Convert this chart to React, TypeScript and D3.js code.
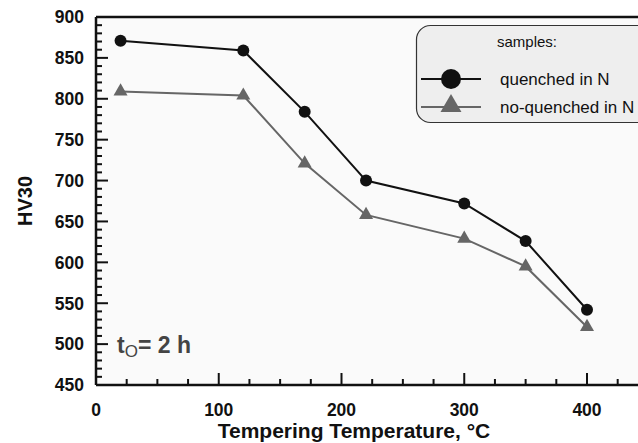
import React, { useRef, useEffect } from 'react';
import * as d3 from 'd3';

const temps = [20, 120, 170, 220, 300, 350, 400];
const quenched = [871, 859, 784, 700, 672, 626, 542];
const noQuenched = [809, 804, 721, 658, 629, 595, 521];
const seriesNames = ['quenched in N', 'no-quenched in N'];
const xTicks = [0, 100, 200, 300, 400];
const yTicks = [450, 500, 550, 600, 650, 700, 750, 800, 850, 900];

export default function App() {
  const svgRef = useRef<SVGSVGElement>(null);

  useEffect(() => {
    const W = 638;
    const svg = d3.select(svgRef.current);
    svg.selectAll('*').remove();

    const x = d3.scaleLinear().domain([0, 450]).range([96, 96 + 450 * 1.2275]);
    const y = d3.scaleLinear().domain([450, 900]).range([385, 17]);
    const font = 'Liberation Sans, Arial, sans-serif';

    // plot background
    svg.append('rect')
      .attr('x', x(0)).attr('y', y(900))
      .attr('width', W - x(0)).attr('height', y(450) - y(900))
      .attr('fill', '#fafafa');

    // y ticks (inside)
    svg.append('g').selectAll('line').data(d3.range(450, 901, 10)).enter().append('line')
      .attr('x1', x(0)).attr('x2', d => x(0) + (d % 50 === 0 ? 12 : 6))
      .attr('y1', d => y(d)).attr('y2', d => y(d))
      .attr('stroke', '#111').attr('stroke-width', 2);

    // x ticks (inside)
    svg.append('g').selectAll('line').data(d3.range(0, 451, 25)).enter().append('line')
      .attr('x1', d => x(d)).attr('x2', d => x(d))
      .attr('y1', y(450)).attr('y2', d => y(450) - (d % 100 === 0 ? 12 : 6))
      .attr('stroke', '#111').attr('stroke-width', 2);

    // frame lines
    svg.append('line').attr('x1', x(0)).attr('x2', x(0)).attr('y1', y(900)).attr('y2', y(450))
      .attr('stroke', '#111').attr('stroke-width', 2.5);
    svg.append('line').attr('x1', x(0)).attr('x2', W).attr('y1', y(450)).attr('y2', y(450))
      .attr('stroke', '#111').attr('stroke-width', 2.5);
    svg.append('line').attr('x1', x(0)).attr('x2', W).attr('y1', y(900)).attr('y2', y(900))
      .attr('stroke', '#111').attr('stroke-width', 2.5);

    // tick labels
    svg.append('g').selectAll('text').data(yTicks).enter().append('text')
      .attr('x', x(0) - 12).attr('y', d => y(d))
      .attr('dy', '0.36em')
      .attr('text-anchor', 'end')
      .attr('font-family', font).attr('font-weight', 'bold').attr('font-size', 17.5)
      .attr('fill', '#111')
      .text(d => d);
    svg.append('g').selectAll('text').data(xTicks).enter().append('text')
      .attr('x', d => x(d)).attr('y', y(450) + 31)
      .attr('text-anchor', 'middle')
      .attr('font-family', font).attr('font-weight', 'bold').attr('font-size', 17.5)
      .attr('fill', '#111')
      .text(d => d);

    // axis titles
    svg.append('text')
      .attr('x', 354).attr('y', 438)
      .attr('text-anchor', 'middle')
      .attr('font-family', font).attr('font-weight', 'bold').attr('font-size', 21)
      .attr('fill', '#111')
      .text('Tempering Temperature, °C');
    svg.append('text')
      .attr('transform', `translate(32,${(y(450) + y(900)) / 2}) rotate(-90)`)
      .attr('text-anchor', 'middle')
      .attr('font-family', font).attr('font-weight', 'bold').attr('font-size', 20)
      .attr('fill', '#111')
      .text('HV30');

    // annotation
    const ann = svg.append('text')
      .attr('x', 117).attr('y', 353)
      .attr('font-family', font).attr('font-weight', 'bold').attr('font-size', 23)
      .attr('fill', '#444');
    ann.append('tspan').text('t');
    ann.append('tspan').attr('font-size', 17).attr('font-weight', 'normal').attr('dy', 4).text('O');
    ann.append('tspan').attr('dy', -4).text('= 2 h');

    // series
    const line = d3.line<number>().x((d, i) => x(temps[i])).y(d => y(d));
    svg.append('path').datum(noQuenched).attr('d', line)
      .attr('fill', 'none').attr('stroke', '#666').attr('stroke-width', 2);
    svg.append('path').datum(quenched).attr('d', line)
      .attr('fill', 'none').attr('stroke', '#111').attr('stroke-width', 2);

    const tri = d3.symbol().type(d3.symbolTriangle).size(85);
    svg.append('g').selectAll('path').data(noQuenched).enter().append('path')
      .attr('d', tri)
      .attr('transform', (d, i) => `translate(${x(temps[i])},${y(d)})`)
      .attr('fill', '#666');
    svg.append('g').selectAll('circle').data(quenched).enter().append('circle')
      .attr('cx', (d, i) => x(temps[i])).attr('cy', d => y(d))
      .attr('r', 6).attr('fill', '#111');

    // legend
    const lg = svg.append('g');
    lg.append('rect')
      .attr('x', 416.5).attr('y', 25.5).attr('width', 240).attr('height', 97).attr('rx', 14)
      .attr('fill', '#eeeeee').attr('stroke', '#333').attr('stroke-width', 1.2);
    lg.append('text').attr('x', 527).attr('y', 42).attr('dy', '0.36em').attr('text-anchor', 'middle')
      .attr('font-family', font).attr('font-size', 15).attr('fill', '#111').text('samples:');
    const rows = [
      { name: seriesNames[0], color: '#111', yy: 79, sym: 'circle' },
      { name: seriesNames[1], color: '#666', yy: 107, sym: 'tri' },
    ];
    rows.forEach(r => {
      lg.append('line').attr('x1', 421).attr('x2', 481).attr('y1', r.yy).attr('y2', r.yy)
        .attr('stroke', r.color).attr('stroke-width', 2);
      if (r.sym === 'circle') {
        lg.append('circle').attr('cx', 451).attr('cy', r.yy).attr('r', 10).attr('fill', r.color);
      } else {
        lg.append('path').attr('d', d3.symbol().type(d3.symbolTriangle).size(190))
          .attr('transform', `translate(451,${r.yy - 1})`).attr('fill', r.color);
      }
      lg.append('text').attr('x', 500).attr('y', r.yy).attr('dy', '0.36em')
        .attr('font-family', font).attr('font-size', 17).attr('fill', '#111').text(r.name);
    });
  }, []);

  return (
    <svg ref={svgRef} width={638} height={443}
      style={{ position: 'fixed', left: 0, top: 0, background: '#fff' }} />
  );
}
